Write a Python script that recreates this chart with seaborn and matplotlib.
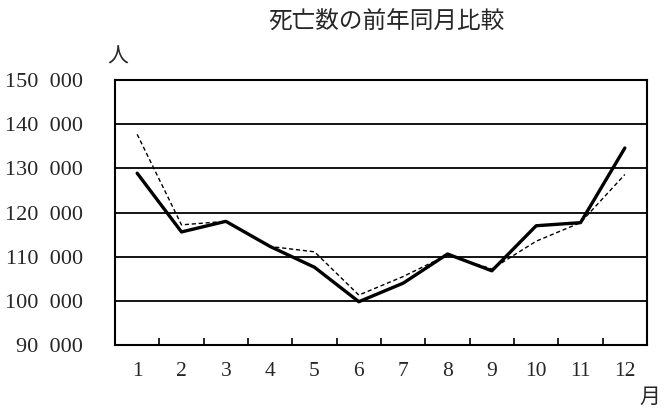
import matplotlib
matplotlib.use("Agg")
import matplotlib.pyplot as plt
import seaborn as sns
import pandas as pd
from matplotlib.ticker import FixedLocator

# 月別死亡数（読み取り値）
months = list(range(1, 13))
deaths_this_year = [128900, 115600, 118000, 112300, 107600, 99800,
                    104000, 110600, 106800, 117000, 117700, 134600]
deaths_last_year = [137700, 117200, 118000, 112300, 111100, 101300,
                    105500, 110400, 107200, 113500, 117700, 128600]
y_ticks = [90000, 100000, 110000, 120000, 130000, 140000, 150000]
y_labels = ["90  000", "100  000", "110  000", "120  000",
            "130  000", "140  000", "150  000"]

df_now = pd.DataFrame({"month": months, "deaths": deaths_this_year})
df_prev = pd.DataFrame({"month": months, "deaths": deaths_last_year})

sns.set_style("white")
plt.rcParams["font.family"] = ["Liberation Serif", "Noto Sans CJK JP", "DejaVu Sans"]

fig = plt.figure(figsize=(6.66, 4.2), dpi=100)
ax = fig.add_axes([115 / 666, 75 / 420, 532 / 666, 265 / 420])

sns.lineplot(data=df_prev, x="month", y="deaths", ax=ax, color="black",
             linewidth=1.0, linestyle=(0, (3, 2)))
sns.lineplot(data=df_now, x="month", y="deaths", ax=ax, color="black",
             linewidth=2.4)

ax.set_xlim(0.5, 12.5)
ax.set_ylim(90000, 150000)
ax.set_yticks(y_ticks)
ax.set_yticklabels(y_labels)
ax.set_xticks(months)
ax.set_xticklabels([str(m) for m in months])
ax.xaxis.set_minor_locator(FixedLocator([m + 0.5 for m in months[:-1]]))
ax.tick_params(axis="x", which="major", length=0, pad=12, labelsize=15.5)
ax.tick_params(axis="x", which="minor", direction="in", length=5, width=1.2,
               color="black", bottom=True)
ax.tick_params(axis="y", length=0, pad=23, labelsize=16)

ax.set_xlabel("")
ax.set_ylabel("")
ax.yaxis.grid(True, color="black", linewidth=1.3)
ax.xaxis.grid(False)
for side in ["left", "right", "top", "bottom"]:
    ax.spines[side].set_visible(True)
    ax.spines[side].set_color("black")
    ax.spines[side].set_linewidth(1.5)

fig.text(386 / 666, 1 - 22 / 420, "死亡数の前年同月比較", ha="center",
         va="center", fontsize=17, family=["Noto Sans CJK JP"])
fig.text(118 / 666, 1 - 57 / 420, "人", ha="center", va="center",
         fontsize=15, family=["Noto Sans CJK JP"])
fig.text(650 / 666, 1 - 397 / 420, "月", ha="center", va="center",
         fontsize=15, family=["Noto Sans CJK JP"])

fig.savefig("out.png", dpi=100, facecolor="white")
